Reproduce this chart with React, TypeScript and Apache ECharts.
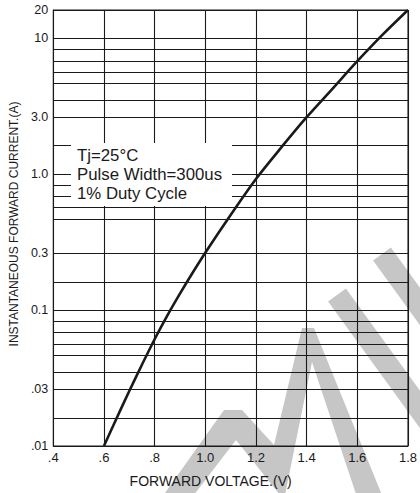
import React, { useEffect, useRef } from "react";
import * as echarts from "echarts";

// Forward voltage (V) and instantaneous forward current (A)
const voltage = [0.6, 0.65, 0.7, 0.75, 0.8, 0.85, 0.9, 0.95, 1.0, 1.1, 1.2, 1.3, 1.4, 1.5, 1.6, 1.7, 1.8];
const current = [0.01, 0.016, 0.0254, 0.0396, 0.061, 0.091, 0.132, 0.188, 0.264, 0.5, 0.92, 1.57, 2.62, 4.2, 6.76, 10.6, 16.1];

// X axis ticks
const xMin = 0.4;
const xMax = 1.8;
const xStep = 0.2;
const xTickLabels = [".4", ".6", ".8", "1.0", "1.2", "1.4", "1.6", "1.8"];

// Y axis (log) range, labelled values and grid values
const yMin = 0.01;
const yMax = 16.1;
const yLabelValues = [0.01, 0.0261, 0.1, 0.262, 1, 2.62, 10, 16.1];
const yLabelTexts = [".01", ".03", "0.1", "0.3", "1.0", "3.0", "10", "20"];
const yGridValues = [
  0.01, 0.016, 0.0261, 0.0346, 0.0462, 0.056, 0.0682, 0.0827,
  0.1, 0.161, 0.262, 0.466, 0.567, 0.683, 0.823,
  1, 1.62, 2.62, 3.52, 4.69, 5.65, 6.81, 8.3, 10, 16.1,
];

const noteLines = ["Tj=25°C", "Pulse Width=300us", "1% Duty Cycle"];
const xName = "FORWARD VOLTAGE.(V)";
const yName = "INSTANTANEOUS FORWARD CURRENT.(A)";

const FONT = "'Liberation Sans', Arial, Helvetica, sans-serif";
const INK = "#1a1a1a";
const WM = "#c6c6c6";

function nearestLabel(v: number): string {
  let best = 0;
  let bestD = Infinity;
  for (let i = 0; i < yLabelValues.length; i++) {
    const d = Math.abs(Math.log10(v) - Math.log10(yLabelValues[i]));
    if (d < bestD) {
      bestD = d;
      best = i;
    }
  }
  return bestD < 0.02 ? yLabelTexts[best] : "";
}

export default function App() {
  const ref = useRef<HTMLDivElement>(null);

  useEffect(() => {
    if (!ref.current) return;
    const chart = echarts.init(ref.current, undefined, { renderer: "svg" });

    const band = (cx: number, cy: number, ex: number, ey: number, w: number) => {
      const dx = ex - cx;
      const dy = ey - cy;
      const L = Math.hypot(dx, dy);
      const px = (-dy / L) * (w / 2);
      const py = (dx / L) * (w / 2);
      return [
        [cx + px, cy + py],
        [ex + px, ey + py],
        [ex - px, ey - py],
        [cx - px, cy - py],
      ];
    };

    chart.setOption({
      animation: false,
      backgroundColor: "#ffffff",
      textStyle: { fontFamily: FONT },
      grid: {
        left: 48,
        right: 7.5,
        top: 10,
        bottom: 47,
        show: true,
        borderColor: INK,
        borderWidth: 1,
        backgroundColor: "transparent",
      },
      xAxis: {
        type: "value",
        min: xMin,
        max: xMax,
        interval: xStep,
        name: xName,
        nameLocation: "middle",
        nameGap: 28,
        nameTextStyle: {
          color: INK,
          fontSize: 14,
          fontFamily: FONT,
          padding: [0, 40, 0, 0],
        },
        axisLine: { show: true, lineStyle: { color: INK, width: 1 } },
        axisTick: { show: false },
        axisLabel: {
          color: INK,
          fontSize: 13,
          fontFamily: FONT,
          margin: 5,
          formatter: (v: number) => xTickLabels[Math.round((v - xMin) / xStep)] ?? "",
        },
        splitLine: { show: true, lineStyle: { color: INK, width: 1.1 } },
      },
      yAxis: {
        type: "log",
        logBase: 10,
        min: yMin,
        max: yMax,
        name: yName,
        nameLocation: "middle",
        nameGap: 31,
        nameTextStyle: {
          color: INK,
          fontSize: 12,
          fontFamily: FONT,
          padding: [0, 0, 0, 8],
        },
        axisLine: { show: true, lineStyle: { color: INK, width: 1 } },
        axisTick: { show: false, customValues: yGridValues },
        axisLabel: {
          color: INK,
          fontSize: 12.5,
          fontFamily: FONT,
          margin: 5,
          customValues: yLabelValues,
          formatter: (v: number) => nearestLabel(v),
        },
        splitLine: { show: true, lineStyle: { color: INK, width: 1.1 } },
      },
      graphic: [
        {
          type: "polygon",
          z: -10,
          silent: true,
          shape: {
            points: [
              [160, 500],
              [224, 410],
              [242, 410],
              [274, 445],
              [302, 328],
              [314, 328],
              [384, 500],
              [358, 500],
              [312, 362],
              [284, 500],
              [236, 440],
              [190, 500],
            ],
          },
          style: { fill: WM },
        },
        {
          type: "polygon",
          z: -10,
          silent: true,
          shape: { points: band(337, 295, 440, 437, 22) },
          style: { fill: WM },
        },
        {
          type: "polygon",
          z: -10,
          silent: true,
          shape: { points: band(382, 254, 440, 334, 22) },
          style: { fill: WM },
        },
        {
          type: "rect",
          z: 10,
          silent: true,
          shape: { x: 71, y: 143, width: 161, height: 63 },
          style: { fill: "#ffffff" },
        },
        ...noteLines.map((t, i) => ({
          type: "text",
          z: 11,
          silent: true,
          x: 77,
          y: 155 + i * 19,
          style: {
            text: t,
            fontSize: 16.8,
            fontFamily: FONT,
            fill: INK,
            align: "left",
            verticalAlign: "middle",
          },
        })),
      ],
      series: [
        {
          type: "line",
          data: voltage.map((v, i) => [v, current[i]]),
          showSymbol: false,
          smooth: 0.3,
          lineStyle: { color: INK, width: 2.6 },
          z: 5,
        },
      ],
    });

    return () => chart.dispose();
  }, []);

  return (
    <div
      ref={ref}
      style={{ position: "fixed", left: 0, top: 0, width: 420, height: 493 }}
    />
  );
}
